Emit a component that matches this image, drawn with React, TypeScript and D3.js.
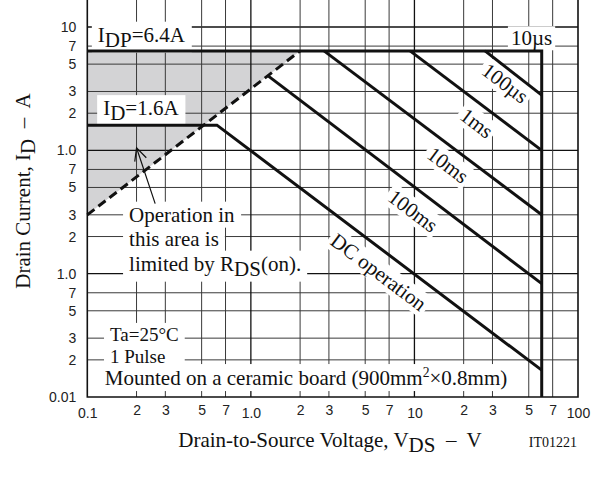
import React, { useEffect, useRef } from "react";
import * as d3 from "d3";

// axis ticks (log scales, labels as printed on the sheet)
const xTicks = [0.1, 0.2, 0.3, 0.5, 0.7, 1, 2, 3, 5, 7, 10, 20, 30, 50, 70, 100];
const xTickLabels = ["0.1", "2", "3", "5", "7", "1.0", "2", "3", "5", "7", "10", "2", "3", "5", "7", "100"];
const yTicks = [0.01, 0.02, 0.03, 0.05, 0.07, 0.1, 0.2, 0.3, 0.5, 0.7, 1, 2, 3, 5, 7, 10];
const yTickLabels = ["0.01", "2", "3", "5", "7", "1.0", "2", "3", "5", "7", "1.0", "2", "3", "5", "7", "10"];

// SOA boundaries as [VDS (V), ID (A)]
const idpLimit = [[0.1, 6.4], [60, 6.4], [60, 0.01]];
const rdsOnLimit = [[0.1, 0.3], [2.0, 6.4]];
const pulse100us = [[27, 6.4], [60, 2.8]];
const pulse1ms = [[9.4, 6.4], [60, 1.0]];
const pulse10ms = [[2.8, 6.4], [60, 0.3]];
const pulse100ms = [[1.28, 4.0], [60, 0.083]];
const dcOperation = [[0.1, 1.6], [0.62, 1.6], [60, 0.0165]];
const rdsOnArea = [[0.1, 0.3], [2.0, 6.4], [0.1, 6.4]];

// labels placed along the curves (centre, in data units)
const curveLabels = [
  { text: "100µs", v: 35.8, i: 3.5 },
  { text: "1ms", v: 24, i: 1.66 },
  { text: "10ms", v: 16, i: 0.76 },
  { text: "100ms", v: 9.8, i: 0.322 },
  { text: "DC operation", v: 6.03, i: 0.103 },
];
const tenUsLabel = { text: "10µs", v: 52, i: 8.1 };
const idpLabel = { text: "I_{DP}=6.4A", v: 0.116, i: 7.6 };
const idLabel = { text: "I_{D}=1.6A", v: 0.125, i: 1.93 };
const rdsNote = { lines: ["Operation in", "this area is", "limited by R_{DS}(on)."], v: 0.18, i: 0.264 };
const condNote = { lines: ["Ta=25°C", "1 Pulse"], v: 0.1377, i: 0.0285 };
const boardNote = { text: "Mounted on a ceramic board (900mm^{2}×0.8mm)", v: 0.128, i: 0.0125 };
const arrowTail = [0.26, 0.37];
const arrowTip = [0.2, 1.05];

const serif = "'Liberation Serif', 'Times New Roman', serif";
const sans = "'Liberation Sans', Arial, sans-serif";

// "I_{DP}=6.4A" -> tspans with sub/superscripts
function richText(sel, str) {
  const re = /_\{([^}]*)\}|\^\{([^}]*)\}|([^_^]+)/g;
  let m;
  let shift = 0;
  while ((m = re.exec(str))) {
    const s = m[1] != null ? 5 : m[2] != null ? -8 : 0;
    const ts = sel.append("tspan").text(m[1] ?? m[2] ?? m[3]);
    if (s - shift !== 0) ts.attr("dy", s - shift);
    if (m[2] != null) ts.attr("font-size", "0.65em");
    shift = s;
  }
}

export default function App() {
  const ref = useRef<SVGSVGElement>(null);

  useEffect(() => {
    const svg = d3.select(ref.current);
    svg.selectAll("*").remove();

    const x = d3.scaleLog().domain([0.1, 100]).range([87.3, 578]);
    const y = d3.scaleLog().domain([0.01, 10]).range([397, 27]);
    const top = 0;
    const isDecade = (v) => Math.abs(Math.log10(v) - Math.round(Math.log10(v))) < 1e-9;
    const line = d3.line().x((d) => x(d[0])).y((d) => y(d[1]));

    // shaded RDS(on) area
    svg.append("path").attr("d", line(rdsOnArea) + "Z").attr("fill", "#d3d3d5");

    // grid
    const grid = svg.append("g");
    grid.selectAll("line.h").data(yTicks.slice(1)).join("line")
      .attr("x1", x(0.1)).attr("x2", x(100))
      .attr("y1", (d) => y(d)).attr("y2", (d) => y(d))
      .attr("stroke", (d) => (isDecade(d) ? "#111" : "#3a3a3a"))
      .attr("stroke-width", (d) => (isDecade(d) ? 1.3 : 1));
    grid.selectAll("line.v").data(xTicks.slice(1, -1)).join("line")
      .attr("y1", top).attr("y2", y(0.01))
      .attr("x1", (d) => x(d)).attr("x2", (d) => x(d))
      .attr("stroke", (d) => (isDecade(d) ? "#111" : "#3a3a3a"))
      .attr("stroke-width", (d) => (isDecade(d) ? 1.3 : 1));

    const bg = svg.append("g");
    const curves = svg.append("g");
    const labels = svg.append("g").attr("font-family", serif).attr("font-size", 21).attr("fill", "#111");

    // frame
    curves.append("path").attr("d", `M${x(0.1)},${top}V${y(0.01)}H${x(100)}V${top}`)
      .attr("fill", "none").attr("stroke", "#111").attr("stroke-width", 1.6);

    // curves
    [idpLimit, pulse100us, pulse1ms, pulse10ms, pulse100ms, dcOperation].forEach((c) => {
      curves.append("path").attr("d", line(c)).attr("fill", "none")
        .attr("stroke", "#111").attr("stroke-width", 3).attr("stroke-linejoin", "miter");
    });
    curves.append("path").attr("d", line(rdsOnLimit)).attr("fill", "none")
      .attr("stroke", "#111").attr("stroke-width", 3).attr("stroke-dasharray", "9,5");

    // arrow
    const tx = x(arrowTip[0]), ty = y(arrowTip[1]);
    const ax = x(arrowTail[0]), ay = y(arrowTail[1]);
    const ang = Math.atan2(ay - ty, ax - tx);
    const head = [ang - 0.45, ang + 0.45].map((a) => [tx + 14 * Math.cos(a), ty + 14 * Math.sin(a)]);
    curves.append("path")
      .attr("d", `M${ax},${ay}L${tx},${ty}M${head[0][0]},${head[0][1]}L${tx},${ty}L${head[1][0]},${head[1][1]}`)
      .attr("fill", "none").attr("stroke", "#111").attr("stroke-width", 1.2);

    const addBg = (node, transform, padX = 3, padY = 1) => {
      const b = node.getBBox();
      bg.append("rect").attr("transform", transform)
        .attr("x", b.x - padX).attr("y", b.y - padY)
        .attr("width", b.width + 2 * padX).attr("height", b.height + 2 * padY)
        .attr("fill", "white");
    };

    const angle = (Math.atan((y(0.1) - y(1)) / (x(1) - x(0.1))) * 180) / Math.PI;
    curveLabels.concat([tenUsLabel]).forEach((l) => {
      const tr = `translate(${x(l.v)},${y(l.i)})` + (l === tenUsLabel ? "" : ` rotate(${angle})`);
      const t = labels.append("text").attr("transform", tr).attr("text-anchor", "middle").attr("y", 7);
      richText(t, l.text);
      addBg(t.node(), tr, 3, 0);
    });

    [idpLabel, idLabel, boardNote].forEach((l) => {
      const tr = `translate(${x(l.v)},${y(l.i)})`;
      const t = labels.append("text").attr("transform", tr);
      richText(t, l.text);
      addBg(t.node(), tr, 6, 1);
    });

    rdsNote.lines.forEach((s, k) => {
      const tr = `translate(${x(rdsNote.v)},${y(rdsNote.i) + k * 24.5})`;
      const t = labels.append("text").attr("transform", tr);
      richText(t, s);
      addBg(t.node(), tr, 6, 1);
    });

    // two-line condition note
    const cg = labels.append("g").attr("transform", `translate(${x(condNote.v)},${y(condNote.i)})`)
      .attr("font-size", 19);
    condNote.lines.forEach((s, k) => richText(cg.append("text").attr("y", k * 22), s));
    addBg(cg.node(), cg.attr("transform"), 6, 1);

    // axes
    const xAxis = svg.append("g").attr("transform", `translate(0,${y(0.01)})`)
      .call(d3.axisBottom(x).tickValues(xTicks).tickFormat((d, i) => xTickLabels[i]).tickSize(0).tickPadding(8));
    xAxis.select(".domain").remove();
    xAxis.selectAll("text").attr("font-family", sans).attr("font-size", 14).attr("fill", "#222")
      .attr("y", (d) => (isDecade(d) ? 11 : 8));

    const yAxis = svg.append("g").attr("transform", `translate(${x(0.1)},0)`)
      .call(d3.axisLeft(y).tickValues(yTicks).tickFormat((d, i) => yTickLabels[i]).tickSize(0).tickPadding(11));
    yAxis.select(".domain").remove();
    yAxis.selectAll("text").attr("font-family", sans).attr("font-size", 14).attr("fill", "#222");

    // titles
    const xt = labels.append("text").attr("x", 330).attr("y", 447).attr("text-anchor", "middle")
      .attr("xml:space", "preserve");
    richText(xt, "Drain-to-Source Voltage, V_{DS}  –  V");
    labels.append("text").attr("x", 577).attr("y", 447).attr("text-anchor", "end")
      .attr("font-size", 14).text("IT01221");
    const yt = labels.append("text").attr("transform", "translate(30,191) rotate(-90)")
      .attr("text-anchor", "middle").attr("xml:space", "preserve");
    richText(yt, "Drain Current, I_{D}  –  A");
  }, []);

  return (
    <div style={{ position: "absolute", left: 0, top: 0 }}>
      <svg ref={ref} width={600} height={484} style={{ display: "block", background: "white" }} />
    </div>
  );
}
